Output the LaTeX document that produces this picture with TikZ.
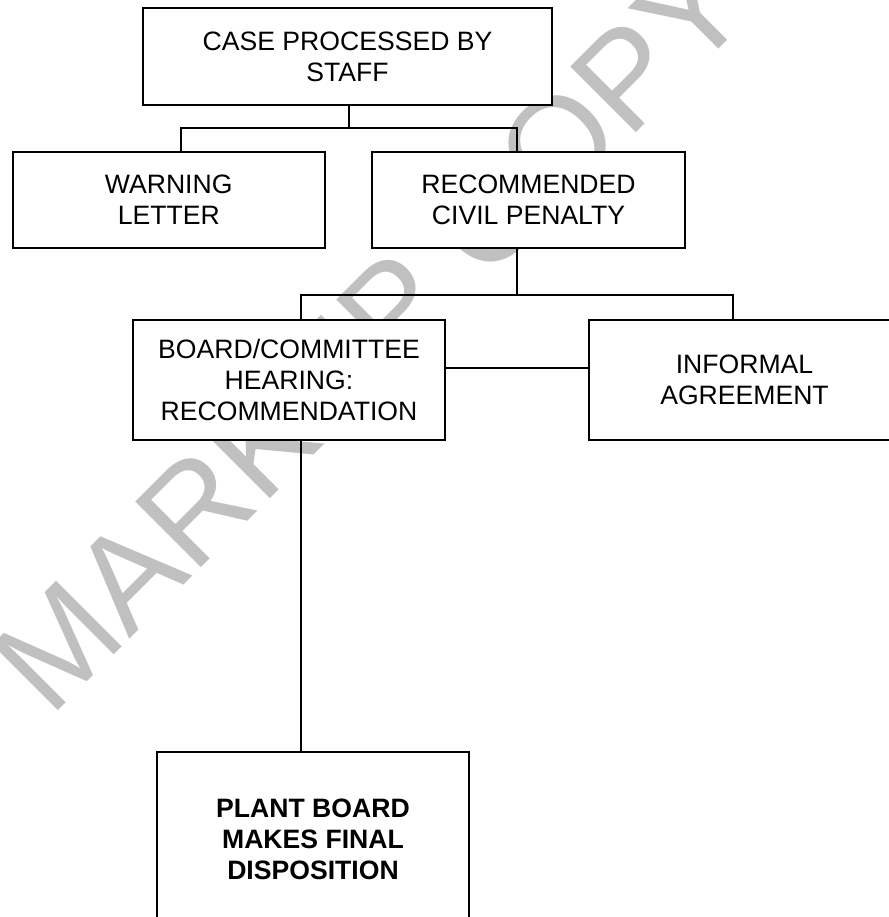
\documentclass[tikz,border=0pt]{standalone}
\usepackage{fontspec}
\setmainfont{Liberation Sans}
\usepackage{xcolor}
\definecolor{stampgray}{RGB}{192,192,192}

\begin{document}
\begin{tikzpicture}[x=0.5pt, y=-0.5pt,
    box/.style={draw, fill=white, line width=0.9pt, align=center, inner sep=0pt,
                font=\fontsize{13.3}{15.5}\selectfont},
    stamp/.style={text=stampgray, rotate=45, inner sep=0pt,
                  font=\fontsize{67.5}{67.5}\selectfont},
    link/.style={line width=0.9pt}]
          \useasboundingbox (0,0) rectangle (889,917);
          \clip (0,0) rectangle (889,917);

          % watermark behind everything
          \node[stamp] (stampmark) at (370,333) {MARKUP COPY};

          % First level
          \node[box, minimum width=204.5pt, minimum height=48.5pt] (case) at (347.5,56.5) {CASE PROCESSED BY\\STAFF};

          % Second level
          \node[box, minimum width=156pt, minimum height=48pt] (warning) at (168.75,200) {WARNING\\LETTER};
          \node[box, minimum width=156.5pt, minimum height=48pt] (penalty) at (528.5,200) {RECOMMENDED\\CIVIL PENALTY};

          % Third level
          \node[box, minimum width=156pt, minimum height=60pt] (hearing) at (289,380) {BOARD/COMMITTEE\\HEARING:\\RECOMMENDATION};
          \node[box, minimum width=155.5pt, minimum height=60pt] (informal) at (744.5,380) {INFORMAL\\AGREEMENT};

          % Last level
          \node[box, minimum width=156pt, minimum height=87pt, font=\fontsize{13.3}{15.5}\selectfont\bfseries] (plant) at (313,839) {PLANT BOARD\\MAKES FINAL\\DISPOSITION};

          % bus points
          \coordinate (busA) at (349,128);
          \coordinate (busAl) at (181,128);
          \coordinate (busAr) at (517,128);
          \coordinate (busB) at (517,295);
          \coordinate (busBl) at (301,295);
          \coordinate (busBr) at (733,295);
          \coordinate (midrow) at (0,368);

          \draw[link] (case.south -| busA) -- (busA);
          \draw[link] (warning.north -| busAl) -- (busAl) -- (busAr) -- (penalty.north -| busAr);
          \draw[link] (penalty.south -| busB) -- (busB);
          \draw[link] (hearing.north -| busBl) -- (busBl) -- (busBr) -- (informal.north -| busBr);
          \draw[link] (hearing.east |- midrow) -- (informal.west |- midrow);
          \draw[link] (hearing.south -| busBl) -- (plant.north -| busBl);
      \end{tikzpicture}
\end{document}
